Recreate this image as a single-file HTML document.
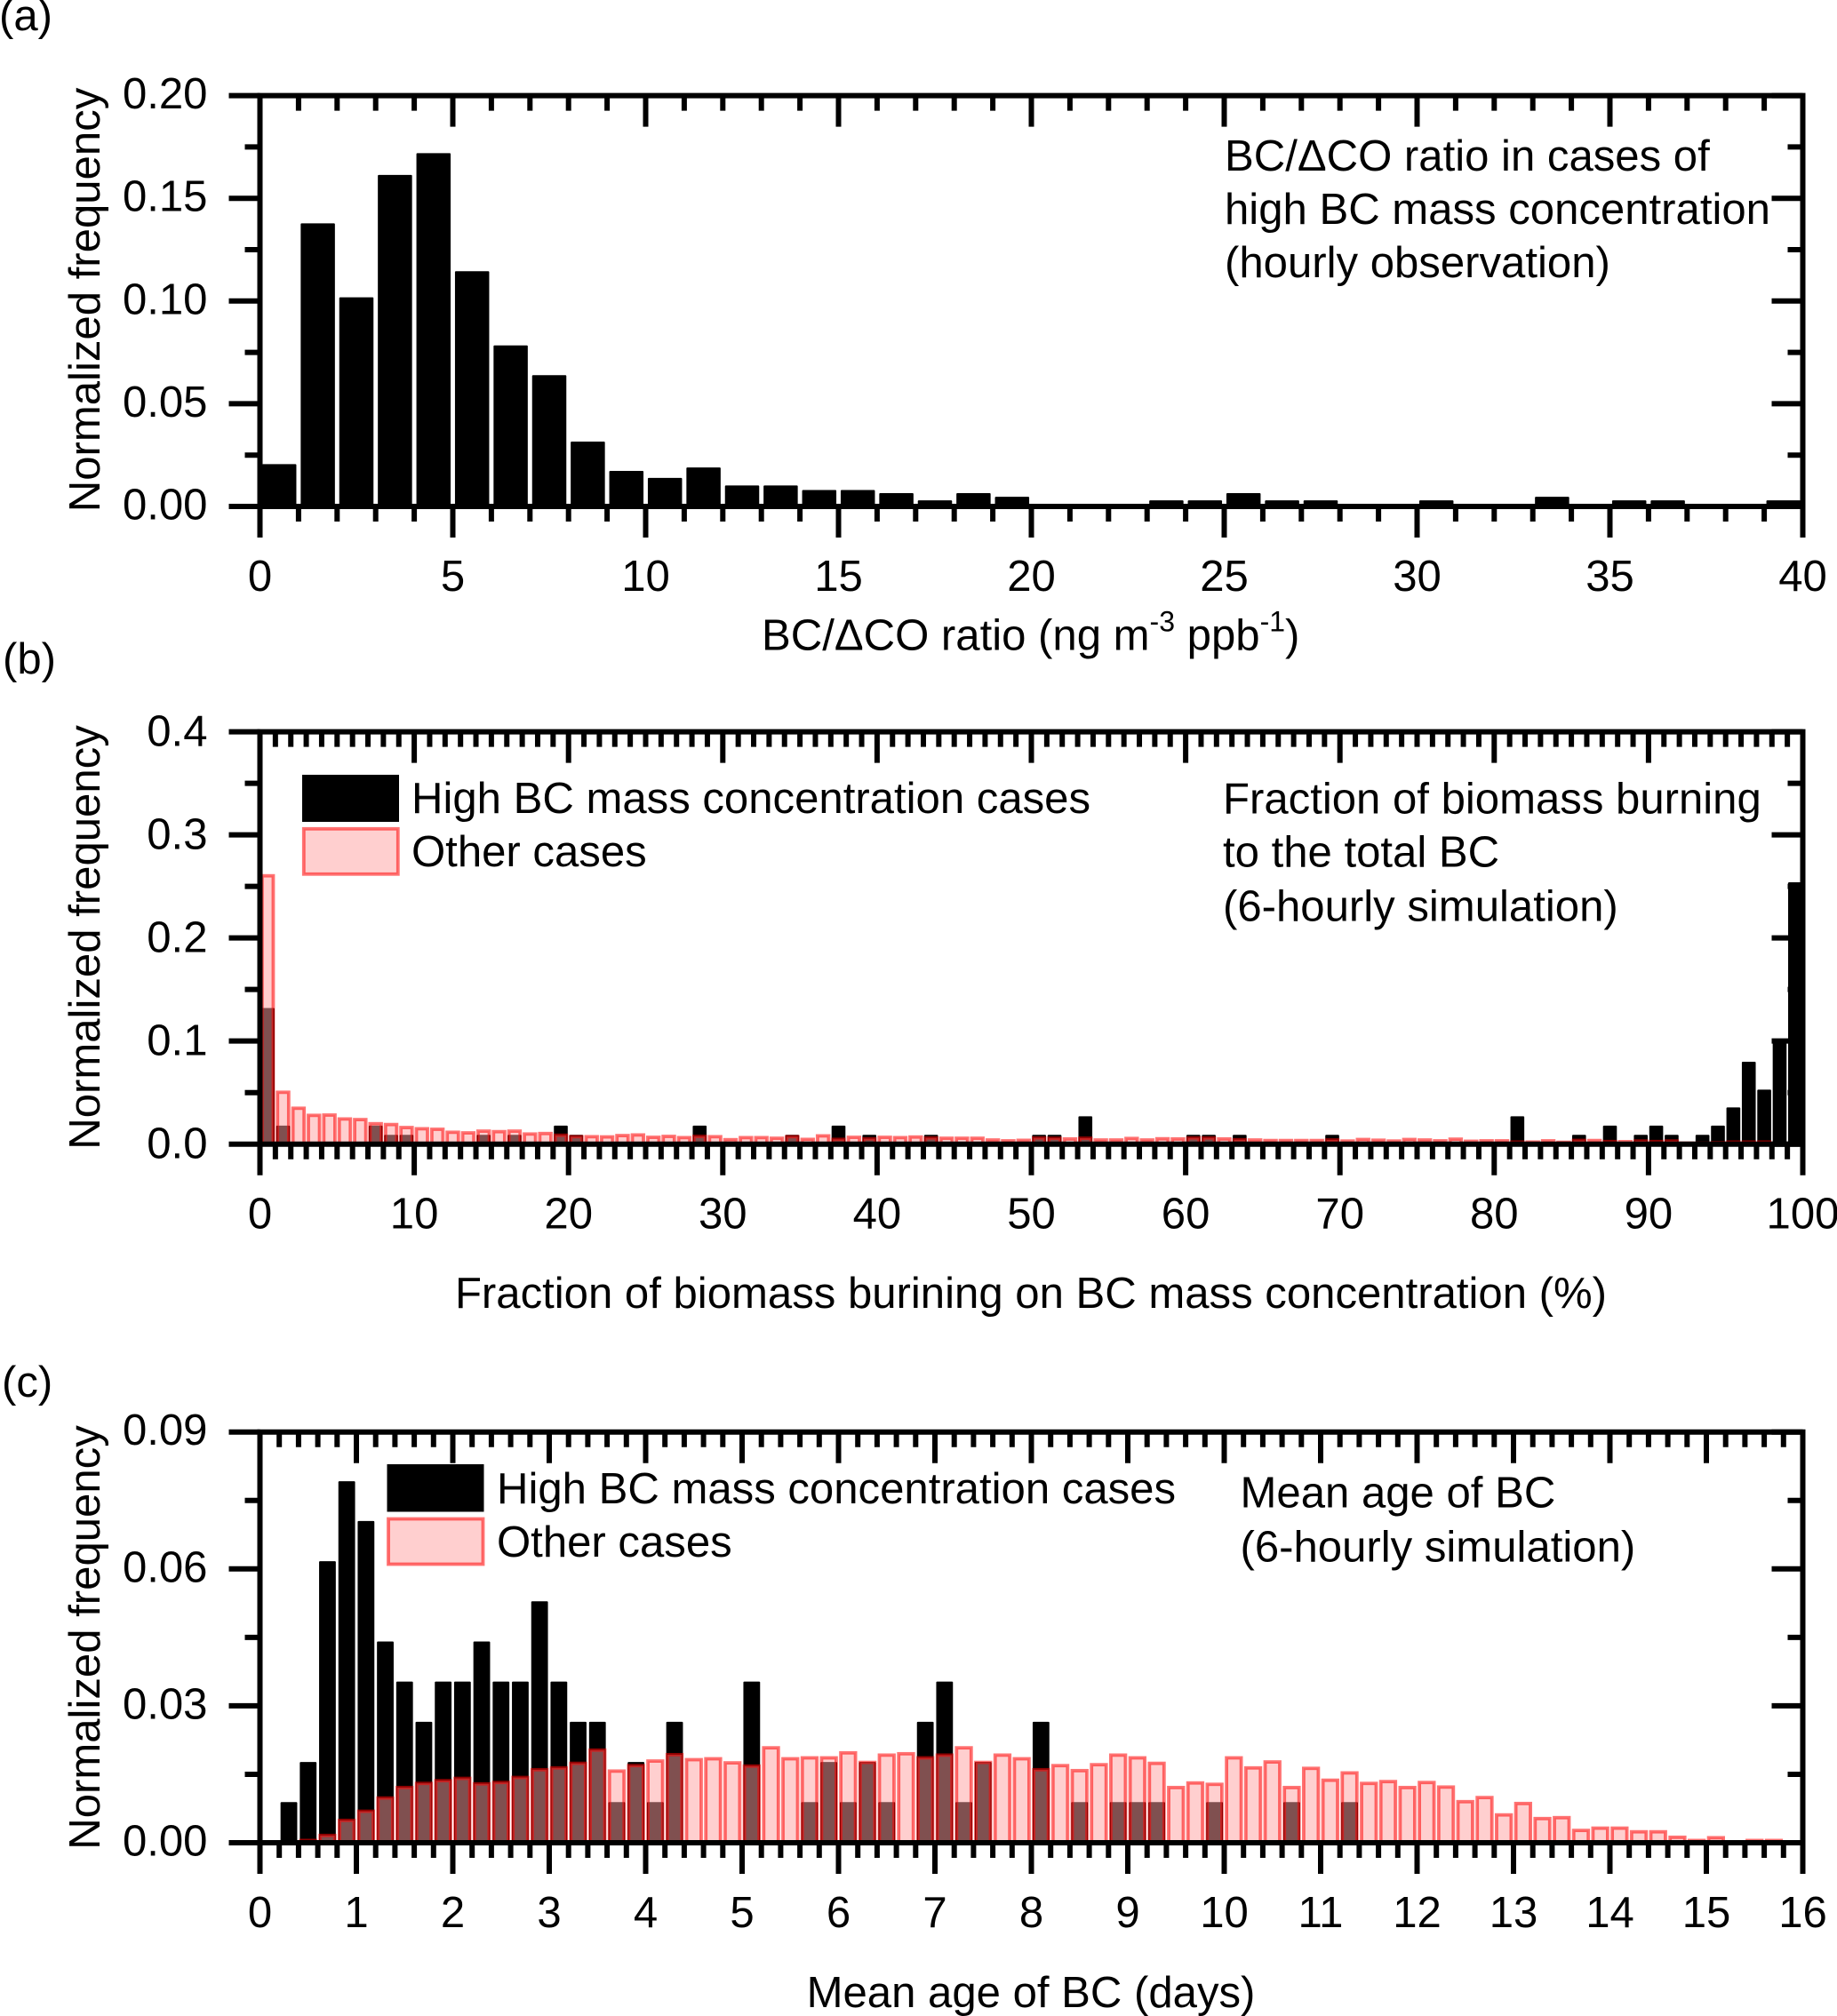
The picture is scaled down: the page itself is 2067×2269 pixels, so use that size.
<!DOCTYPE html>
<html lang="en">
<head>
<meta charset="utf-8">
<title>Normalized frequency histograms of BC/ΔCO, biomass burning fraction and BC age</title>
<style>
html,body{margin:0;padding:0;background:#fff;width:2067px;height:2269px;overflow:hidden}
svg{display:block}
text{font-family:"Liberation Sans",Arial,sans-serif;font-size:49.1px;fill:#000}
</style>
</head>
<body>
<svg id="figure" xmlns="http://www.w3.org/2000/svg" width="2067" height="2269" viewBox="0 0 2067 2269">
  <rect x="0" y="0" width="2067" height="2269" fill="#fff"/>
  <g id="plot-a"></g>
  <g id="plot-b"></g>
  <g id="plot-c"></g>

  <text x="-1" y="34">(a)</text>
  <text x="3" y="758">(b)</text>
  <text x="2" y="1572">(c)</text>

  <text text-anchor="middle" transform="translate(112,337.5) rotate(-90)">Normalized frequency</text>
  <text text-anchor="middle" transform="translate(112,1055) rotate(-90)">Normalized frequency</text>
  <text text-anchor="middle" transform="translate(112,1843) rotate(-90)">Normalized frequency</text>

  <text x="857" y="731.5">BC/ΔCO ratio (ng m<tspan dy="-21" font-size="32">-3</tspan><tspan dy="21"> ppb</tspan><tspan dy="-21" font-size="32">-1</tspan><tspan dy="21">)</tspan></text>
  <text text-anchor="middle" x="1160" y="1472">Fraction of biomass burining on BC mass concentration (%)</text>
  <text text-anchor="middle" x="1160" y="2259">Mean age of BC (days)</text>

  <g>
    <text x="1378" y="192">BC/ΔCO ratio in cases of</text>
    <text x="1378" y="252">high BC mass concentration</text>
    <text x="1378" y="312">(hourly observation)</text>
  </g>
  <g>
    <text x="1376" y="915.5">Fraction of biomass burning</text>
    <text x="1376" y="975.5">to the total BC</text>
    <text x="1376" y="1036.5">(6-hourly simulation)</text>
  </g>
  <g>
    <text x="1395.5" y="1696.5">Mean age of BC</text>
    <text x="1395.5" y="1757.5">(6-hourly simulation)</text>
  </g>

  <g>
    <rect x="340" y="872" width="109" height="53" fill="#000"/>
    <rect x="341.8" y="932.8" width="106" height="51" fill="#ffa0a0" fill-opacity="0.5" stroke="#ff0000" stroke-opacity="0.55" stroke-width="3.8"/>
    <text x="463" y="915">High BC mass concentration cases</text>
    <text x="463" y="975">Other cases</text>
  </g>
  <g>
    <rect x="435.5" y="1648" width="109" height="53.5" fill="#000"/>
    <rect x="437" y="1709.5" width="106.5" height="51" fill="#ffa0a0" fill-opacity="0.5" stroke="#ff0000" stroke-opacity="0.55" stroke-width="3.8"/>
    <text x="559" y="1692">High BC mass concentration cases</text>
    <text x="559" y="1752">Other cases</text>
  </g>
</svg>
<script>
// ---------- Panel (a) data ----------
const aHighBc = [
  0.0206,0.1378,0.1018,0.1614,0.1720,0.1145,0.0784,0.0639,0.0316,0.0173,
  0.0139,0.0190,0.0102,0.0102,0.0080,0.0080,0.0065,0.0030,0.0065,0.0047,
  0,0,0,0.0030,0.0030,0.0065,0.0030,0.0030,0,0,
  0.0030,0,0,0.0047,0,0.0030,0.0030,0,0,0.0030
];
const aXTickLabels = ["0","5","10","15","20","25","30","35","40"];
const aYTickLabels = ["0.00","0.05","0.10","0.15","0.20"];

// ---------- Panel (b) data ----------
const bHighBc = [
  0.132,0.018,0,0,0,0,0,0.018,0.009,0.009,
  0,0,0,0,0.009,0,0.009,0,0,0.018,
  0.009,0,0,0,0,0,0,0,0.018,0,
  0,0,0,0,0.009,0,0,0.018,0,0.009,
  0,0,0,0.009,0,0,0,0,0,0,
  0.009,0.009,0,0.027,0,0,0,0,0,0,
  0.009,0.009,0,0.009,0,0,0,0,0,0.009,
  0,0,0,0,0,0,0,0,0,0,
  0,0.027,0,0,0,0.009,0,0.018,0,0.009,
  0.018,0.009,0,0.009,0.018,0.0356,0.0799,0.0529,0.1017,0.254
];
const bOther = [
  0.2603,0.0503,0.0348,0.0279,0.0282,0.0244,0.0238,0.0198,0.0190,0.0161,
  0.0149,0.0144,0.0115,0.0109,0.0126,0.0121,0.0126,0.0098,0.0103,0.0086,
  0.0072,0.0072,0.0070,0.0083,0.0089,0.0066,0.0075,0.0063,0.0075,0.0072,
  0.0043,0.0063,0.0063,0.0057,0.0072,0.0046,0.0080,0.0046,0.0066,0.0052,
  0.0066,0.0063,0.0069,0.0060,0.0057,0.0057,0.0057,0.0040,0.0032,0.0037,
  0.0060,0.0057,0.0050,0.0057,0.0040,0.0040,0.0055,0.0040,0.0052,0.0050,
  0.0060,0.0060,0.0050,0.0043,0.0040,0.0035,0.0035,0.0035,0.0035,0.0040,
  0.0030,0.0045,0.0038,0.0030,0.0045,0.0040,0.0032,0.0048,0.0028,0.0032,
  0.0032,0.0020,0.0020,0.0032,0.0018,0.0036,0.0035,0.0025,0.0024,0.0030,
  0.0025,0.0030,0.0010,0.0010,0.0014,0.0020,0.0020,0.0020,0,0
];
const bXTickLabels = ["0","10","20","30","40","50","60","70","80","90","100"];
const bYTickLabels = ["0.0","0.1","0.2","0.3","0.4"];

// ---------- Panel (c) data ----------
const cHighBc = [
  0,0.0089,0.0177,0.0617,0.0792,0.0705,0.0441,0.0353,0.0265,0.0353,
  0.0353,0.0441,0.0353,0.0353,0.0529,0.0353,0.0265,0.0265,0.0089,0.0177,
  0.0089,0.0265,0,0,0,0.0353,0,0,0.0089,0.0177,
  0.0089,0.0177,0.0089,0,0.0265,0.0353,0.0089,0.0177,0,0,
  0.0265,0,0.0089,0,0.0089,0.0089,0.0089,0,0,0.0089,
  0,0,0,0.0089,0,0,0.0089,0,0,0,
  0,0,0,0,0,0,0,0,0,0,
  0,0,0,0,0,0,0,0,0,0
];
const cOther = [
  0,0,0.0005,0.0016,0.0049,0.0069,0.0098,0.0121,0.0130,0.0136,
  0.0141,0.0129,0.0132,0.0143,0.0160,0.0164,0.0174,0.0203,0.0157,0.0169,
  0.0179,0.0193,0.0182,0.0184,0.0175,0.0168,0.0208,0.0184,0.0186,0.0186,
  0.0197,0.0176,0.0192,0.0195,0.0186,0.0192,0.0208,0.0176,0.0192,0.0184,
  0.0160,0.0169,0.0158,0.0171,0.0192,0.0186,0.0174,0.0121,0.0131,0.0128,
  0.0186,0.0164,0.0177,0.0121,0.0163,0.0137,0.0153,0.0130,0.0134,0.0121,
  0.0132,0.0122,0.0090,0.0099,0.0061,0.0086,0.0053,0.0055,0.0027,0.0032,
  0.0032,0.0024,0.0024,0.0012,0.0005,0.0011,0.0001,0.0005,0.0005,0
];
const cXTickLabels = ["0","1","2","3","4","5","6","7","8","9","10","11","12","13","14","15","16"];
const cYTickLabels = ["0.00","0.03","0.06","0.09"];

const SVG_NS = "http://www.w3.org/2000/svg";
const AXIS_LEFT = 292.5;
const AXIS_RIGHT = 2028.5;
const LINE = 6;

function mk(parent, tag, attrs) {
  const el = document.createElementNS(SVG_NS, tag);
  for (const k in attrs) el.setAttribute(k, attrs[k]);
  parent.appendChild(el);
  return el;
}

function drawPanel(id, cfg) {
  const root = document.getElementById(id);
  const xMax = parseFloat(cfg.xLabels[cfg.xLabels.length - 1]);
  const yMax = parseFloat(cfg.yLabels[cfg.yLabels.length - 1]);
  const xScale = v => AXIS_LEFT + (v / xMax) * (AXIS_RIGHT - AXIS_LEFT);
  const yScale = v => cfg.bottom - (v / yMax) * (cfg.bottom - cfg.top);
  const binW = xMax / cfg.high.length;

  // High BC bars (black)
  cfg.high.forEach((v, i) => {
    if (v <= 0) return;
    const cx = xScale((i + 0.5) * binW);
    const w = cfg.blackW;
    const r = mk(root, "rect", {x: cx - w / 2, y: yScale(v), width: w, height: cfg.bottom - yScale(v), fill: "#000", rx: 1});
    
    
  });

  // Other-case bars (translucent pink)
  if (cfg.other) {
    cfg.other.forEach((v, i) => {
      if (v <= 0) return;
      const cx = xScale((i + 0.5) * binW);
      const w = cfg.redW;
      const r = mk(root, "rect", {x: cx - w / 2, y: yScale(v), width: w, height: cfg.bottom - yScale(v), fill: "#ffa0a0", "fill-opacity": 0.5, stroke: "#ff0000", "stroke-opacity": 0.55, "stroke-width": 3.8});
      
      
    });
  }

  // Frame
  const frame = mk(root, "path", {
    d: `M${AXIS_LEFT} ${cfg.top}H${AXIS_RIGHT}V${cfg.bottom}H${AXIS_LEFT}Z`,
    fill: "none", stroke: "#000", "stroke-width": LINE
  });
  
  

  // X ticks
  const xMajorStep = parseFloat(cfg.xLabels[1]) - parseFloat(cfg.xLabels[0]);
  const xCount = Math.round(xMax / cfg.xMinor);
  const xPer = Math.round(xMajorStep / cfg.xMinor);
  let d = "";
  for (let i = 0; i <= xCount; i++) {
    const v = i * cfg.xMinor;
    const major = i % xPer === 0;
    const x = xScale(v);
    const botLen = major ? 35 : 17;
    const topLen = major ? 35 : 17;
    d += `M${x} ${cfg.bottom}v${botLen}M${x} ${cfg.top}v${topLen}`;
  }
  const xTicks = mk(root, "path", {d: d, stroke: "#000", "stroke-width": LINE, fill: "none"});
  
  

  // Y ticks
  const yMajorStep = parseFloat(cfg.yLabels[1]) - parseFloat(cfg.yLabels[0]);
  const yCount = (cfg.yLabels.length - 1) * 2;
  d = "";
  for (let i = 0; i <= yCount; i++) {
    const v = i * yMajorStep / 2;
    const major = i % 2 === 0;
    const y = yScale(v);
    const len = major ? 35 : 17;
    d += `M${AXIS_LEFT} ${y}h${-len}M${AXIS_RIGHT} ${y}h${-len}`;
  }
  const yTicks = mk(root, "path", {d: d, stroke: "#000", "stroke-width": LINE, fill: "none"});
  
  

  // Tick labels
  cfg.xLabels.forEach(lbl => {
    const t = mk(root, "text", {x: xScale(parseFloat(lbl)), y: cfg.bottom + 95, "text-anchor": "middle"});
    t.textContent = lbl;
    
    
  });
  cfg.yLabels.forEach(lbl => {
    const t = mk(root, "text", {x: 233.5, y: yScale(parseFloat(lbl)) + cfg.yLabelShift, "text-anchor": "end"});
    t.textContent = lbl;
    
    
  });
}

drawPanel("plot-a", {top: 107.6, bottom: 570, high: aHighBc, other: null, blackW: 38.5, redW: 0, xLabels: aXTickLabels, yLabels: aYTickLabels, xMinor: 1, yLabelShift: 14.5});
drawPanel("plot-b", {top: 823.6, bottom: 1287.7, high: bHighBc, other: bOther, blackW: 15.6, redW: 12.6, xLabels: bXTickLabels, yLabels: bYTickLabels, xMinor: 1, yLabelShift: 16});
drawPanel("plot-c", {top: 1611.7, bottom: 2074, high: cHighBc, other: cOther, blackW: 18.8, redW: 16.5, xLabels: cXTickLabels, yLabels: cYTickLabels, xMinor: 0.2, yLabelShift: 14.5});
</script>
</body>
</html>
